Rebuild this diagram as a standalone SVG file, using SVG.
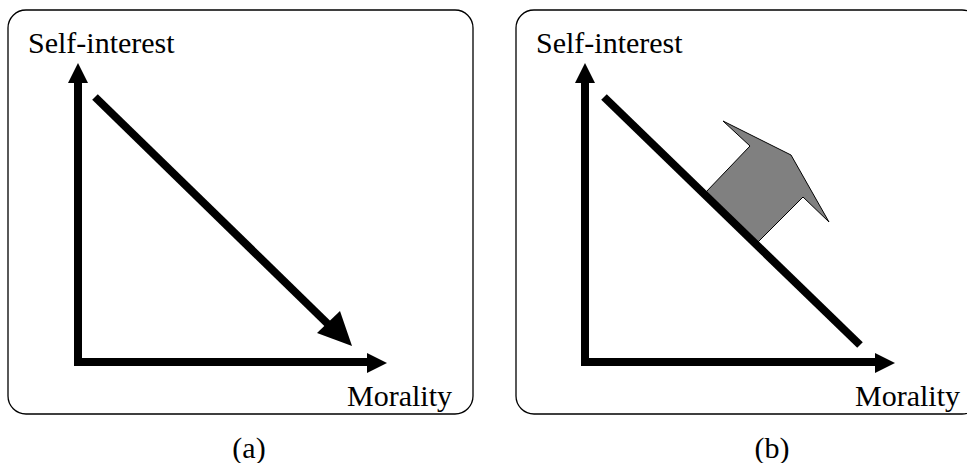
<svg xmlns="http://www.w3.org/2000/svg" width="967" height="463" viewBox="0 0 967 463">
<style>
.panel{fill:#fff;stroke:#000;stroke-width:1.3}
.lbl{font-family:'Liberation Serif','Times New Roman','DejaVu Serif',serif;font-size:30px;fill:#000}
.ax{stroke:#000;stroke-width:8;fill:none}
.hd{fill:#000}
</style>
<rect width="967" height="463" fill="#fff"/>
<g id="panel-a">
<rect class="panel" x="8" y="10" width="465" height="404" rx="18"/>
<text class="lbl" x="28" y="53">Self-interest</text>
<text class="lbl" x="347" y="406">Morality</text>
<text class="lbl" x="249" y="458" text-anchor="middle">(a)</text>
</g>
<g id="panel-b">
<rect class="panel" x="516" y="10" width="464" height="404" rx="18"/>
<text class="lbl" x="536" y="53">Self-interest</text>
<text class="lbl" x="855" y="406">Morality</text>
<text class="lbl" x="772" y="458" text-anchor="middle">(b)</text>
</g>
<g id="shift-arrow">
<polygon points="723,121 750,146 706,192 758,242 803,197 829,222 791,155" fill="#808080" stroke="#000" stroke-width="1"/>
</g>
<g id="connectors">
<polyline class="ax" points="78,80 78,362 369,362"/>
<polygon class="hd" points="78,63 68,83 88,83"/>
<polygon class="hd" points="387,363 367,353 367,373"/>
<line class="ax" x1="95" y1="97" x2="332" y2="328"/>
<polygon class="hd" points="352,346 340,311 317,333"/>
<polyline class="ax" points="585,80 585,362 876,362"/>
<polygon class="hd" points="585,63 575,83 595,83"/>
<polygon class="hd" points="895,363 875,353 875,373"/>
<line class="ax" x1="604" y1="97" x2="860" y2="345"/>
</g>
</svg>
